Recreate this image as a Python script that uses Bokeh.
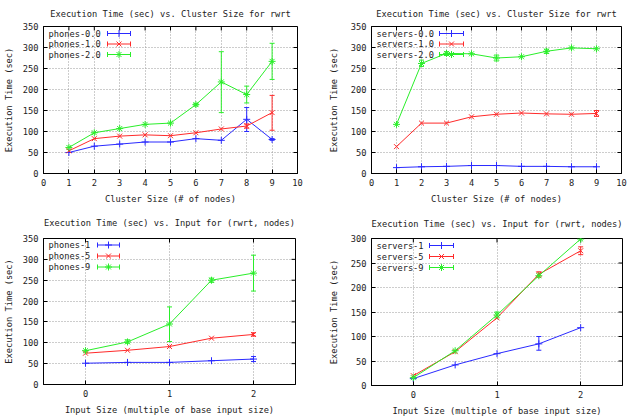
from bokeh.plotting import figure
from bokeh.models import Range1d, FixedTicker, Whisker, TeeHead, ColumnDataSource
from bokeh.layouts import column, row
from bokeh.embed import file_html
from bokeh.resources import INLINE
from bokeh.core.properties import value

FONT = "DejaVu Sans Mono"
FS = "8.7px"
TXT = "#222222"
BLUE = "#2a2aff"
RED = "#ff2a2a"
GREEN = "#2aee2a"

# ---------------- data ----------------
cluster_sizes = [1, 2, 3, 4, 5, 6, 7, 8, 9]

phones_0_0 = [50, 65, 70, 75, 75, 83, 79, 129, 81]
phones_0_0_lo = [50, 65, 70, 75, 75, 83, 79, 100, 79]
phones_0_0_hi = [50, 65, 70, 75, 75, 83, 79, 157, 83]
phones_1_0 = [54, 83, 89, 92, 90, 97, 106, 113, 145]
phones_1_0_lo = [54, 83, 89, 92, 90, 97, 106, 108, 103]
phones_1_0_hi = [54, 83, 89, 92, 90, 97, 106, 118, 186]
phones_2_0 = [62, 97, 107, 117, 120, 164, 218, 188, 267]
phones_2_0_lo = [62, 97, 107, 117, 120, 161, 145, 168, 224]
phones_2_0_hi = [62, 97, 107, 117, 120, 167, 290, 208, 310]

servers_0_0 = [14, 16, 17, 19, 19, 17, 17, 16, 16]
servers_0_0_lo = [14, 16, 17, 19, 19, 17, 17, 16, 16]
servers_0_0_hi = [14, 16, 17, 19, 19, 17, 17, 16, 16]
servers_1_0 = [64, 120, 120, 135, 141, 144, 142, 141, 143]
servers_1_0_lo = [64, 120, 120, 135, 141, 144, 142, 141, 136]
servers_1_0_hi = [64, 120, 120, 135, 141, 144, 142, 141, 150]
servers_2_0 = [117, 262, 286, 285, 275, 278, 291, 299, 297]
servers_2_0_lo = [117, 255, 281, 285, 268, 278, 286, 299, 297]
servers_2_0_hi = [117, 270, 290, 285, 282, 278, 296, 299, 297]

input_sizes = [0, 0.5, 1, 1.5, 2]

phones_1 = [51, 53, 53, 57, 61]
phones_1_lo = [51, 53, 53, 57, 55]
phones_1_hi = [51, 53, 53, 57, 67]
phones_5 = [75, 82, 91, 111, 120]
phones_5_lo = [75, 82, 91, 111, 116]
phones_5_hi = [75, 82, 91, 111, 124]
phones_9 = [81, 102, 145, 250, 267]
phones_9_lo = [81, 99, 103, 245, 224]
phones_9_hi = [81, 107, 186, 255, 310]

servers_1 = [14, 42, 65, 85, 118]
servers_1_lo = [14, 42, 65, 72, 118]
servers_1_hi = [14, 42, 65, 100, 118]
servers_5 = [20, 69, 138, 227, 275]
servers_5_lo = [20, 69, 138, 221, 267]
servers_5_hi = [20, 69, 138, 232, 283]
servers_9 = [16, 71, 144, 224, 299]
servers_9_lo = [16, 71, 138, 224, 299]
servers_9_hi = [16, 71, 150, 224, 299]

cluster_ticks = [0, 1, 2, 3, 4, 5, 6, 7, 8, 9, 10]
input_ticks = [0, 1, 2]
time_ticks_350 = [0, 50, 100, 150, 200, 250, 300, 350]
time_ticks_300 = [0, 50, 100, 150, 200, 250, 300]

title_cluster = "Execution Time (sec) vs. Cluster Size for rwrt"
title_input = "Execution Time (sec) vs. Input for (rwrt, nodes)"
xlabel_cluster = "Cluster Size (# of nodes)"
xlabel_input = "Input Size (multiple of base input size)"
ylabel = "Execution Time (sec)"


def panel(title, xlabel, xr, yr, xticks, yticks, series, geom, leg, ylab_standoff, title_standoff):
    left, right, top, bottom, fw, fh = geom
    p = figure(frame_width=fw, frame_height=fh,
               x_range=Range1d(*xr), y_range=Range1d(*yr),
               output_backend="svg", toolbar_location=None,
               min_border_left=left, min_border_right=right,
               min_border_top=top, min_border_bottom=bottom,
               title=title)
    p.background_fill_color = "white"
    p.border_fill_color = "white"
    p.outline_line_color = "black"
    p.outline_line_width = 1
    p.title.text_font = FONT
    p.title.text_font_size = FS
    p.title.text_font_style = "normal"
    p.title.text_color = TXT
    p.title.align = "center"
    p.title.vertical_align = "top"
    p.title.standoff = title_standoff

    p.xaxis.ticker = FixedTicker(ticks=xticks, minor_ticks=[])
    p.yaxis.ticker = FixedTicker(ticks=yticks, minor_ticks=[])
    p.xaxis.axis_label = xlabel
    p.yaxis.axis_label = ylabel
    for ax in p.xaxis + p.yaxis:
        ax.major_label_text_font = FONT
        ax.major_label_text_font_size = FS
        ax.major_label_text_color = TXT
        ax.axis_label_text_font = FONT
        ax.axis_label_text_font_size = FS
        ax.axis_label_text_font_style = "normal"
        ax.axis_label_text_color = TXT
        ax.major_tick_in = 4
        ax.major_tick_out = 0
        ax.minor_tick_in = 0
        ax.minor_tick_out = 0
        ax.axis_line_color = "black"
        ax.major_tick_line_color = "black"
    p.xaxis.major_label_standoff = 5
    p.xaxis.axis_label_standoff = 5
    p.yaxis.major_label_standoff = 5
    p.yaxis.axis_label_standoff = ylab_standoff

    p.xgrid.ticker = FixedTicker(ticks=xticks, minor_ticks=[])
    p.ygrid.ticker = FixedTicker(ticks=yticks, minor_ticks=[])
    for g in (p.xgrid[0], p.ygrid[0]):
        g.grid_line_color = "#9a9a9a"
        g.grid_line_dash = "1 2"
        g.grid_line_width = 1

    x0, x1 = xr
    y0, y1 = yr
    def dx(px):
        return x0 + (x1 - x0) * px / fw
    def dy(py):
        return y1 - (y1 - y0) * py / fh

    # mirrored tick marks on the top and right borders (gnuplot style)
    tlx = (x1 - x0) * 4 / fw
    tly = (y1 - y0) * 4 / fh
    p.segment([x1] * len(yticks), yticks, [x1 - tlx] * len(yticks), yticks,
              line_color="black", line_width=1)
    p.segment(xticks, [y1] * len(xticks), xticks, [y1 - tly] * len(xticks),
              line_color="black", line_width=1)

    text_px, s0_px, s1_px, rows = leg
    for (label, xs, ys, lo, hi, color, marker), rpx in zip(series, rows):
        p.line(xs, ys, line_color=color, line_width=1)
        keep = [i for i in range(len(xs)) if hi[i] - lo[i] > 0]
        if keep:
            src = ColumnDataSource(dict(x=[xs[i] for i in keep],
                                        lo=[lo[i] for i in keep],
                                        hi=[hi[i] for i in keep]))
            w = Whisker(base="x", lower="lo", upper="hi", source=src,
                        dimension="height", line_color=color, line_width=1,
                        upper_head=TeeHead(size=5, line_color=color, line_width=1),
                        lower_head=TeeHead(size=5, line_color=color, line_width=1))
            p.add_layout(w)
        p.scatter(xs, ys, marker=marker, size=7, line_color=color,
                  fill_color=color, line_width=1)
        # legend entry: label, then sample line with error caps and marker
        ly = dy(rpx)
        p.text([dx(text_px)], [ly], text=[label], text_font=value(FONT),
               text_font_size=FS, text_color=TXT, text_baseline="middle",
               text_align="left")
        p.segment([dx(s0_px)], [ly], [dx(s1_px)], [ly], line_color=color, line_width=1)
        capdy = (y1 - y0) * 2.5 / fh
        p.segment([dx(s0_px), dx(s1_px)], [ly - capdy, ly - capdy],
                  [dx(s0_px), dx(s1_px)], [ly + capdy, ly + capdy],
                  line_color=color, line_width=1)
        p.scatter([dx((s0_px + s1_px) / 2)], [ly], marker=marker, size=7,
                  line_color=color, fill_color=color, line_width=1)
    return p


p1 = panel(title_cluster, xlabel_cluster, (0, 10), (0, 350), cluster_ticks, time_ticks_350,
           [("phones-0.0", cluster_sizes, phones_0_0, phones_0_0_lo, phones_0_0_hi, BLUE, "cross"),
            ("phones-1.0", cluster_sizes, phones_1_0, phones_1_0_lo, phones_1_0_hi, RED, "x"),
            ("phones-2.0", cluster_sizes, phones_2_0, phones_2_0_lo, phones_2_0_hi, GREEN, "asterisk")],
           (43, 17, 26, 34, 254, 147), (5, 64, 87, [7, 17.5, 28]), 6, 12)

p2 = panel(title_cluster, xlabel_cluster, (0, 10), (0, 350), cluster_ticks, time_ticks_350,
           [("servers-0.0", cluster_sizes, servers_0_0, servers_0_0_lo, servers_0_0_hi, BLUE, "cross"),
            ("servers-1.0", cluster_sizes, servers_1_0, servers_1_0_lo, servers_1_0_hi, RED, "x"),
            ("servers-2.0", cluster_sizes, servers_2_0, servers_2_0_lo, servers_2_0_hi, GREEN, "asterisk")],
           (57, 8, 26, 34, 250, 147), (5, 68, 92, [7, 17.5, 28]), 9, 12)

p3 = panel(title_input, xlabel_input, (-0.5, 2.5), (0, 350), input_ticks, time_ticks_350,
           [("phones-1", input_sizes, phones_1, phones_1_lo, phones_1_hi, BLUE, "cross"),
            ("phones-5", input_sizes, phones_5, phones_5_lo, phones_5_hi, RED, "x"),
            ("phones-9", input_sizes, phones_9, phones_9_lo, phones_9_hi, GREEN, "asterisk")],
           (43, 19, 31, 33, 252, 146), (5, 54, 76, [6.5, 17.5, 28.5]), 6, 17)

p4 = panel(title_input, xlabel_input, (-0.5, 2.5), (0, 300), input_ticks, time_ticks_300,
           [("servers-1", input_sizes, servers_1, servers_1_lo, servers_1_hi, BLUE, "cross"),
            ("servers-5", input_sizes, servers_5, servers_5_lo, servers_5_hi, RED, "x"),
            ("servers-9", input_sizes, servers_9, servers_9_lo, servers_9_hi, GREEN, "asterisk")],
           (57, 7, 30, 33, 251, 147), (5, 58, 82, [7, 18, 29]), 9, 16)

layout = column(row(p1, p2), row(p3, p4))
open("out.html", "w").write(file_html(layout, INLINE))
